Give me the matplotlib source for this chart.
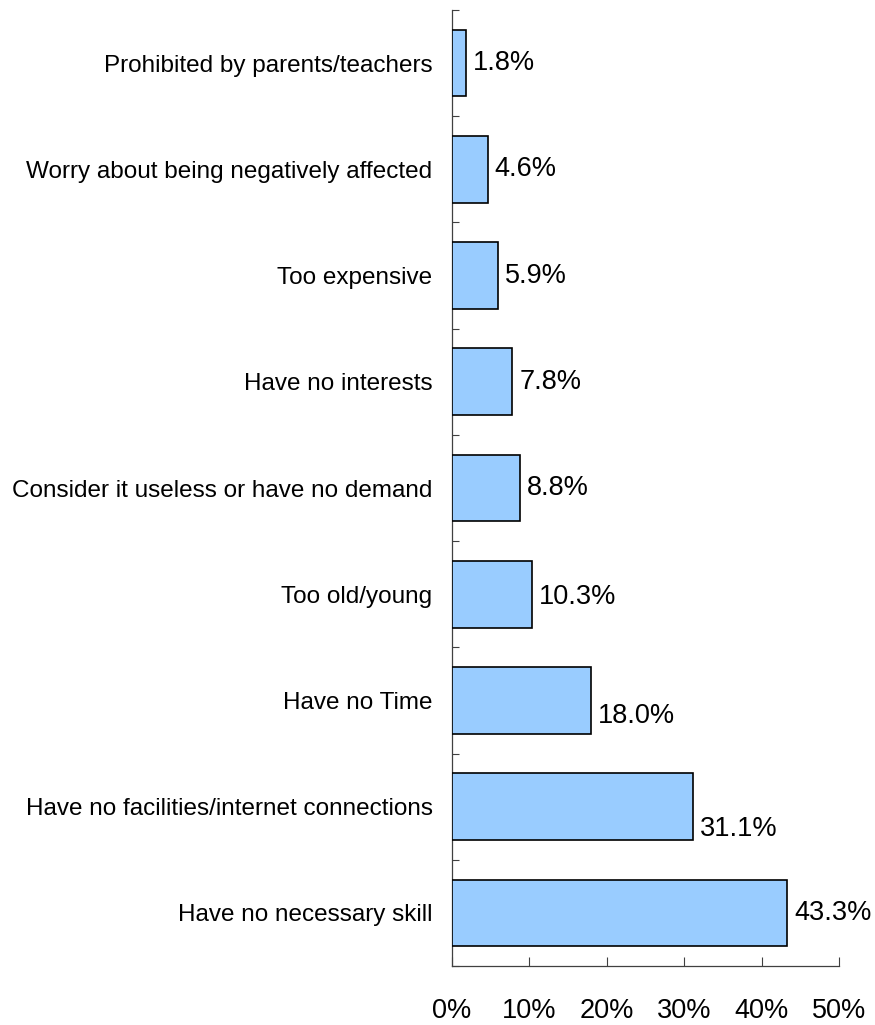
import matplotlib
matplotlib.use("Agg")
import matplotlib.pyplot as plt
from matplotlib.ticker import FixedLocator, FuncFormatter

# Reasons for not using the internet (share of respondents, %)
reasons = [
    "Prohibited by parents/teachers",
    "Worry about being negatively affected",
    "Too expensive",
    "Have no interests",
    "Consider it useless or have no demand",
    "Too old/young",
    "Have no Time",
    "Have no facilities/internet connections",
    "Have no necessary skill",
]
shares = [1.8, 4.6, 5.9, 7.8, 8.8, 10.3, 18.0, 31.1, 43.3]
x_ticks = [0, 10, 20, 30, 40, 50]

# small vertical nudges (points) for the value labels
label_nudge = [0, 0, 0, 0, 0, -2, -11, -16, 0]

plt.rcParams["font.family"] = ["Liberation Sans", "DejaVu Sans"]

fig = plt.figure(figsize=(8.75, 10.25), dpi=100)
ax = fig.add_axes([0.5166, 0.0576, 0.9589 - 0.5166, 0.9902 - 0.0576])

n = len(reasons)
ypos = list(range(n))
ax.barh(ypos, shares, height=0.627, color="#99CCFF", edgecolor="black",
        linewidth=1.2, zorder=3)

ax.set_ylim(n - 0.5, -0.5)
ax.set_xlim(0, 50)

for y, v, dy in zip(ypos, shares, label_nudge):
    ax.annotate(f"{v:.1f}%", xy=(v, y), xytext=(5, dy), textcoords="offset points",
                ha="left", va="center", fontsize=19.5, color="black")

ax.set_yticks(ypos)
ax.set_yticklabels(reasons, fontsize=17.5)
ax.yaxis.set_minor_locator(FixedLocator([i - 0.5 for i in range(n + 1)]))
ax.tick_params(axis="y", which="major", length=0, pad=14)
ax.tick_params(axis="y", which="minor", direction="in", length=5, width=0.8,
               color="#404040")

ax.xaxis.set_major_locator(FixedLocator(x_ticks))
ax.xaxis.set_major_formatter(FuncFormatter(lambda v, p: f"{v:.0f}%"))
ax.tick_params(axis="x", direction="in", length=6.5, width=0.8, color="#404040",
               labelsize=19.5, pad=23)

for side in ("top", "right"):
    ax.spines[side].set_visible(False)
for side in ("left", "bottom"):
    ax.spines[side].set_color("#404040")
    ax.spines[side].set_linewidth(0.9)

fig.savefig("out.png", dpi=100)
